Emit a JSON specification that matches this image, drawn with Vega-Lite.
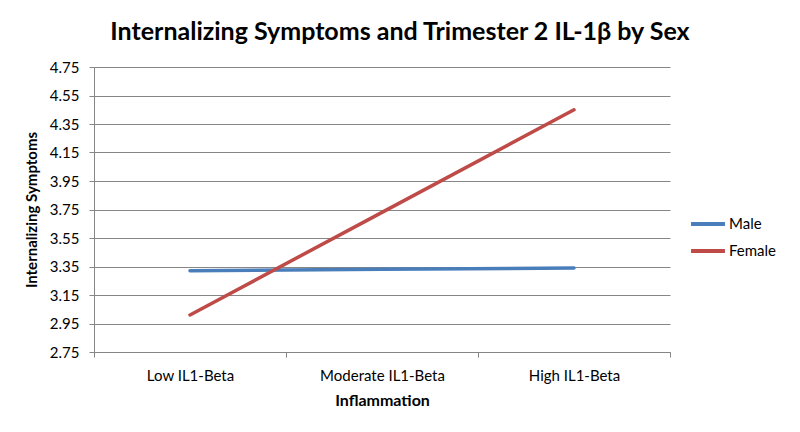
{
  "$schema": "https://vega.github.io/schema/vega-lite/v6.json",
  "width": 576,
  "height": 285,
  "autosize": {"type": "none"},
  "padding": {"left": 94, "top": 67, "right": 130, "bottom": 80},
  "background": "white",
  "title": {
    "text": "Internalizing Symptoms and Trimester 2 IL-1β by Sex",
    "font": "Lato",
    "fontSize": 25,
    "fontWeight": "bold",
    "color": "black",
    "anchor": "middle",
    "dx": 18,
    "offset": 15
  },
  "config": {
    "view": {"stroke": null},
    "font": "Lato"
  },
  "data": {
    "values": [
      {"level": "Low IL1-Beta", "sex": "Male", "value": 3.32},
      {"level": "Moderate IL1-Beta", "sex": "Male", "value": 3.33},
      {"level": "High IL1-Beta", "sex": "Male", "value": 3.34},
      {"level": "Low IL1-Beta", "sex": "Female", "value": 3.01},
      {"level": "Moderate IL1-Beta", "sex": "Female", "value": 3.73},
      {"level": "High IL1-Beta", "sex": "Female", "value": 4.45}
    ]
  },
  "mark": {"type": "line", "strokeWidth": 3.5, "strokeCap": "round"},
  "encoding": {
    "x": {
      "field": "level",
      "type": "nominal",
      "bandPosition": 0.5,
      "sort": ["Low IL1-Beta", "Moderate IL1-Beta", "High IL1-Beta"],
      "scale": {"type": "band", "paddingInner": 0, "paddingOuter": 0},
      "axis": {
        "title": "Inflammation",
        "titleFont": "Lato",
        "titleFontSize": 16,
        "titleFontWeight": "bold",
        "titleColor": "black",
        "titlePadding": 9,
        "labelAngle": 0,
        "labelFont": "Lato",
        "labelFontSize": 15,
        "labelColor": "black",
        "labelPadding": 11,
        "domainColor": "#868686",
        "tickColor": "#868686",
        "tickBand": "extent",
        "tickSize": 5,
        "grid": false
      }
    },
    "y": {
      "field": "value",
      "type": "quantitative",
      "scale": {"domain": [2.75, 4.75], "nice": false, "zero": false},
      "axis": {
        "title": "Internalizing Symptoms",
        "titleFont": "Lato",
        "titleFontSize": 15,
        "titleFontWeight": "bold",
        "titleColor": "black",
        "titlePadding": 10,
        "values": [2.75, 2.95, 3.15, 3.35, 3.55, 3.75, 3.95, 4.15, 4.35, 4.55, 4.75],
        "format": ".2f",
        "labelFont": "Lato",
        "labelFontSize": 15,
        "labelColor": "black",
        "labelPadding": 10,
        "domainColor": "#868686",
        "tickColor": "#868686",
        "tickSize": 5,
        "gridColor": "#868686",
        "gridWidth": 1
      }
    },
    "color": {
      "field": "sex",
      "type": "nominal",
      "sort": ["Male", "Female"],
      "scale": {"domain": ["Male", "Female"], "range": ["#4A7EBB", "#BE4B48"]},
      "legend": {
        "title": null,
        "orient": "none",
        "legendX": 595,
        "legendY": 138,
        "symbolType": "stroke",
        "symbolSize": 1150,
        "symbolStrokeWidth": 4,
        "labelFont": "Lato",
        "labelFontSize": 15,
        "labelColor": "black",
        "labelOffset": 2,
        "rowPadding": -4
      }
    }
  }
}
